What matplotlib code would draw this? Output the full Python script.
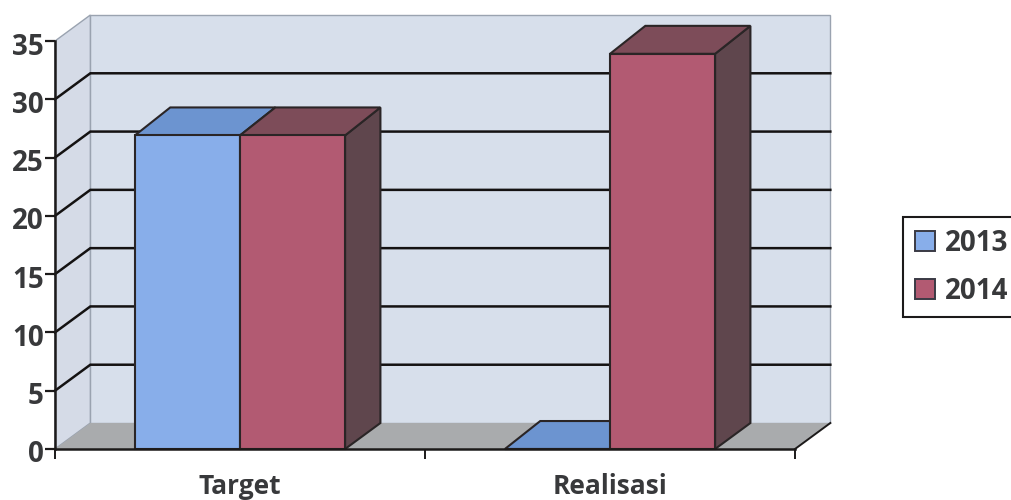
import matplotlib
matplotlib.use("Agg")
import matplotlib.pyplot as plt
from matplotlib.patches import Polygon, Patch
from matplotlib.transforms import ScaledTranslation

categories = ["Target", "Realisasi"]
years = ["2013", "2014"]
values_2013 = [26.9, 0]
values_2014 = [26.9, 33.9]
y_ticks = [0, 5, 10, 15, 20, 25, 30, 35]

# fake 3D look: how far the back wall sits from the front plane
depth_x = 0.0955
depth_y = 2.23
bar_depth_y = 2.4
bar_w = 0.284

edge = "#2a2526"
text_col = "#38393b"
blue = {"front": "#88aeea", "top": "#6c94d0", "side": "#56739f"}
red = {"front": "#b25a72", "top": "#7d4c59", "side": "#5f464d"}

plt.rcParams["font.family"] = ["Open Sans", "DejaVu Sans"]
plt.rcParams["font.weight"] = "bold"

fig = plt.figure(figsize=(10.11, 5), dpi=100)
ax = fig.add_axes([55 / 1011, 1 - 449 / 500, 740 / 1011, 408 / 500])
ax.set_xlim(0, 2)
ax.set_ylim(0, 35)


def poly(points, color, z, ec=None, lw=0):
    ax.add_patch(Polygon(points, closed=True, facecolor=color, edgecolor=ec,
                         linewidth=lw, zorder=z, clip_on=False))


# walls and floor
poly([(depth_x, depth_y), (2 + depth_x, depth_y), (2 + depth_x, 35 + depth_y), (depth_x, 35 + depth_y)],
     "#d7dfeb", 1, "#9aa3b0", 1)
poly([(0, 0), (depth_x, depth_y), (depth_x, 35 + depth_y), (0, 35)], "#d5dbe7", 1, "#9aa3b0", 1)
poly([(0, 0), (2, 0), (2 + depth_x, depth_y), (depth_x, depth_y)], "#a9abad", 2)

# gridlines run along the side wall, then across the back wall
for v in y_ticks[1:-1]:
    ax.plot([0, depth_x, 2 + depth_x], [v, v + depth_y, v + depth_y], color="#141212",
            lw=1.8, zorder=3, clip_on=False, solid_joinstyle="miter")
ax.plot([2, 2 + depth_x], [0, depth_y], color="#1c1a1a", lw=1.4, zorder=3, clip_on=False)


def bar3d(x0, value, colors, z):
    x1 = x0 + bar_w
    top = value + bar_depth_y
    poly([(x1, 0), (x1 + depth_x, depth_y), (x1 + depth_x, top), (x1, value)],
         colors["side"], z, edge, 1.5)
    poly([(x0, value), (x1, value), (x1 + depth_x, top), (x0 + depth_x, top)],
         colors["top"], z, edge, 1.5)
    ax.bar(x0, value, bar_w, align="edge", color=colors["front"], edgecolor=edge,
           linewidth=1.5, zorder=z + 0.5, clip_on=False)


for i in range(len(categories)):
    centre = i + 0.5
    bar3d(centre - bar_w, values_2013[i], blue, 4 + i)
    bar3d(centre, values_2014[i], red, 4.6 + i)

# axes
for side in ["top", "right"]:
    ax.spines[side].set_visible(False)
for side in ["left", "bottom"]:
    ax.spines[side].set_color("#1c1a1a")
    ax.spines[side].set_linewidth(1.8)
    ax.spines[side].set_zorder(8)
ax.set_yticks(y_ticks)
ax.tick_params(axis="y", length=7, width=1.6, color="#1c1a1a", labelsize=20,
               labelcolor=text_col, pad=1)
# numbers sit slightly below their ticks
nudge = ScaledTranslation(0, -2.5 / 100, fig.dpi_scale_trans)
for label in ax.get_yticklabels():
    label.set_transform(label.get_transform() + nudge)
ax.set_xticks([0, 1, 2])
ax.set_xticklabels([])
ax.tick_params(axis="x", which="major", length=7, width=1.4, color="#1c1a1a")
ax.set_xticks([i + 0.5 for i in range(len(categories))], minor=True)
ax.set_xticklabels(categories, minor=True)
ax.tick_params(axis="x", which="minor", length=0, labelsize=19, labelcolor=text_col, pad=17)

handles = [Patch(facecolor=blue["front"], edgecolor="#3a3a44", linewidth=1.4),
           Patch(facecolor=red["front"], edgecolor="#3a3a44", linewidth=1.4)]
leg = fig.legend(handles, years, loc="upper left", bbox_to_anchor=(903 / 1011, 1 - 217 / 500),
                 fontsize=20, labelcolor=text_col, frameon=True, fancybox=False, framealpha=1,
                 edgecolor="#1c1a1a", handlelength=0.72, handleheight=0.72, handletextpad=0.36,
                 labelspacing=0.68, borderaxespad=0, borderpad=0.42)
leg.get_frame().set_linewidth(1.5)

fig.savefig("out.png", dpi=100, facecolor="white")
